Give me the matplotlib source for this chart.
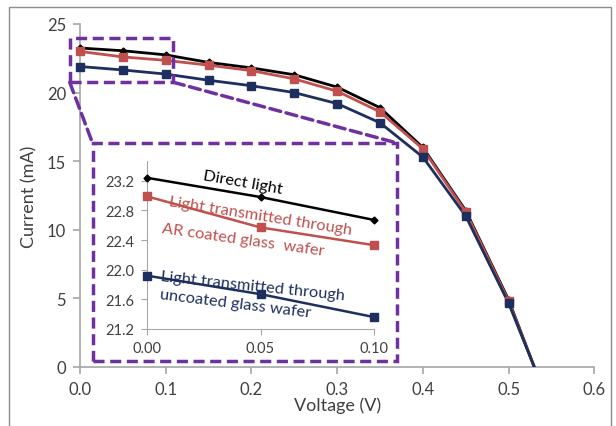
import matplotlib.pyplot as plt
from matplotlib.patches import Rectangle, ConnectionPatch

plt.rcParams['font.family'] = ['Lato', 'DejaVu Sans']

# main I-V curves
voltage = [0.0, 0.05, 0.10, 0.15, 0.20, 0.25, 0.30, 0.35, 0.40, 0.45, 0.50, 0.53]
i_direct = [23.25, 23.05, 22.75, 22.2, 21.8, 21.3, 20.4, 18.9, 16.0, 11.4, 4.9, 0.0]
i_ar = [23.0, 22.6, 22.35, 22.0, 21.6, 21.0, 20.1, 18.6, 15.9, 11.3, 4.8, 0.0]
i_uncoated = [21.9, 21.65, 21.35, 20.9, 20.5, 20.0, 19.2, 17.8, 15.3, 11.0, 4.65, 0.0]
n_marked = 11  # last point (Voc) has no marker

# zoomed values
v_zoom = [0.0, 0.05, 0.10]
z_direct = [23.24, 22.98, 22.67]
z_ar = [22.99, 22.57, 22.33]
z_uncoated = [21.92, 21.67, 21.36]

BLACK = '#000000'
RED = '#C0504D'
NAVY = '#1C2F5E'
PURPLE = '#7030A0'
GREY = '#A6A6A6'
TXT = '#404040'

W, H = 616, 427
fig = plt.figure(figsize=(W/100, H/100), dpi=100)

def fx(x):
    return x / W

def fy(y):
    return 1 - y / H

# outer frame
fig.add_artist(Rectangle((fx(8.5), fy(430)), fx(611) - fx(8.5), fy(7.5) - fy(430),
                         transform=fig.transFigure, fill=False, ec='#8C8C8C', lw=1))

ax = fig.add_axes([fx(80), fy(368), fx(594.3) - fx(80), fy(25) - fy(368)])
series = [(i_direct, BLACK, 'D', 3.5), (i_ar, RED, 's', 5.5), (i_uncoated, NAVY, 's', 5.5)]
for ys, c, m, ms in series:
    ax.plot(voltage, ys, color=c, lw=2, zorder=3)
    ax.plot(voltage[:n_marked], ys[:n_marked], ls='none', marker=m, ms=ms, color=c,
            clip_on=False, zorder=4)
ax.set_xlim(0, 0.6)
ax.set_ylim(0, 25)
ax.set_xticks([0, 0.1, 0.2, 0.3, 0.4, 0.5, 0.6])
ax.set_xticklabels(['0.0', '0.1', '0.2', '0.3', '0.4', '0.5', '0.6'])
ax.set_yticks([0, 5, 10, 15, 20, 25])
for s in ['top', 'right']:
    ax.spines[s].set_visible(False)
for s in ['left', 'bottom']:
    ax.spines[s].set_color(GREY)
    ax.spines[s].set_linewidth(1.2)
ax.tick_params(colors=GREY, labelcolor=TXT, labelsize=12, length=5, width=1.2, pad=5)
ax.set_xlabel('Voltage (V)', fontsize=13, color=TXT, labelpad=0)
ax.set_ylabel('Current (mA)', fontsize=13, color=TXT, labelpad=7)

# inset
ins = fig.add_axes([fx(146.7), fy(330), fx(374.3) - fx(146.7), fy(161.7) - fy(330)])
zseries = [(z_direct, BLACK, 'D', 3.5), (z_ar, RED, 's', 6), (z_uncoated, NAVY, 's', 6)]
for ys, c, m, ms in zseries:
    ins.plot(v_zoom, ys, color=c, lw=1.8, marker=m, ms=ms, clip_on=False, zorder=3)
ins.set_xlim(0, 0.1)
ins.set_ylim(21.2, 23.47)
ins.set_xticks([0, 0.05, 0.10])
ins.set_xticklabels(['0.00', '0.05', '0.10'])
ins.set_yticks([21.2, 21.6, 22.0, 22.4, 22.8, 23.2])
ins.set_yticklabels(['21.2', '21.6', '22.0', '22.4', '22.8', '23.2'])
ins.patch.set_alpha(0)
for s in ['top', 'right']:
    ins.spines[s].set_visible(False)
for s in ['left', 'bottom']:
    ins.spines[s].set_color(GREY)
ins.tick_params(colors=GREY, labelcolor=TXT, labelsize=10.5, length=4, pad=5)

fs = 11.8
ins.text(0.0424, 23.18, 'Direct light', color=BLACK, fontsize=fs, rotation=-10,
         ha='center', va='center')
ins.text(0.0498, 22.73, 'Light transmitted through', color=RED, fontsize=fs, rotation=-9,
         ha='center', va='center')
ins.text(0.0424, 22.41, 'AR coated glass  wafer', color=RED, fontsize=fs, rotation=-8,
         ha='center', va='center')
ins.text(0.0468, 21.79, 'Light transmitted through', color=NAVY, fontsize=fs, rotation=-6,
         ha='center', va='center')
ins.text(0.0388, 21.54, 'uncoated glass wafer', color=NAVY, fontsize=fs, rotation=-7,
         ha='center', va='center')

# zoom markers
dash = dict(ec=PURPLE, lw=2.5, ls=(0, (3.2, 1.6)), fill=False)
ax.add_patch(Rectangle((-0.012, 20.75), 0.121, 3.2, clip_on=False, zorder=5, **dash))
fig.add_artist(Rectangle((fx(92.5), fy(361.7)), fx(397) - fx(92.5), fy(144) - fy(361.7),
                         transform=fig.transFigure, **dash))
for xa, xb in [(-0.012, 92.5), (0.109, 397)]:
    cp = ConnectionPatch(xyA=(xa, 20.75), coordsA=ax.transData,
                         xyB=(fx(xb), fy(144)), coordsB=fig.transFigure,
                         color=PURPLE, lw=2.5, ls=(0, (3.2, 1.6)))
    fig.add_artist(cp)

fig.savefig('out.png', dpi=100)
